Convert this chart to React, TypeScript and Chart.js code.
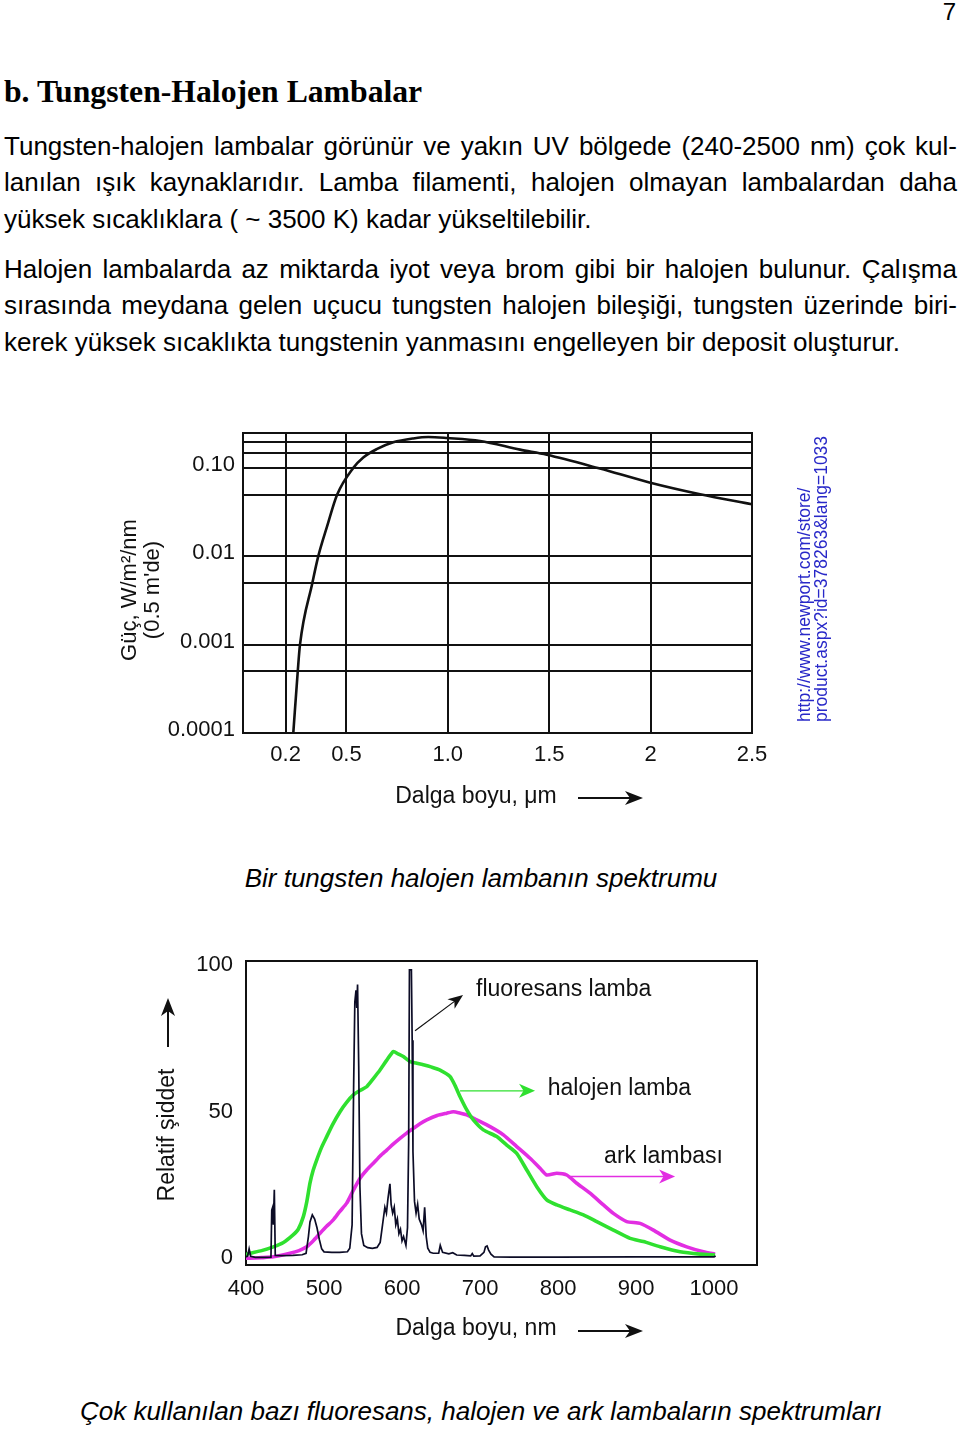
import React, { useEffect, useRef } from 'react';
import { Chart, registerables } from 'chart.js';

Chart.register(...registerables);

const FONT = "'Liberation Sans', Arial, Helvetica, sans-serif";

// ---------------- Chart 1: tungsten-halogen power spectrum ----------------
const powerWavelengthsUm = [0.238, 0.26, 0.271, 0.332, 0.361, 0.405, 0.454, 0.533, 0.583, 0.649, 0.731, 0.83, 0.904, 0.998, 1.159, 1.356, 1.488, 1.75, 1.994, 2.244, 2.5];
const powerValues = [0.0001, 0.0005, 0.001, 0.005, 0.01, 0.022, 0.05, 0.1, 0.132, 0.164, 0.196, 0.217, 0.225, 0.219, 0.203, 0.162, 0.142, 0.099, 0.0689, 0.0507, 0.039];
const powerGridValues = [0.0001, 0.0005, 0.001, 0.005, 0.01, 0.05, 0.1, 0.15, 0.2];
const powerLabelValues = [0.0001, 0.001, 0.01, 0.1];
const powerLabelTexts = ['0.0001', '0.001', '0.01', '0.10'];
const umTickValues = [0.2, 0.5, 1.0, 1.5, 2, 2.5];
const umTickLabels = ['0.2', '0.5', '1.0', '1.5', '2', '2.5'];

// ---------------- Chart 2: lamp spectra ----------------
const fluorWl = [400, 402, 404, 406, 412, 425, 432, 433, 434.2, 435, 436.3, 437.5, 445, 460, 472, 477, 480, 482, 485, 488, 491, 494, 497, 500, 510, 520, 530, 533, 536, 538, 539.5, 541, 542, 543, 544.5, 546, 548, 551, 556, 562, 568, 572, 575, 578, 580, 582, 584.5, 586, 588, 590, 592, 594, 596, 598, 600, 602, 605, 607, 608.5, 609.5, 612, 613, 614, 616, 618, 620, 622, 625, 627, 629, 631, 633, 636, 640, 647, 649, 652, 660, 665, 670, 680, 688, 690, 692, 700, 705, 707, 709, 711, 714, 718, 740, 800, 900, 1000, 1002];
const fluorVal = [1.0, 1.3, 3.8, 1.3, 0.9, 0.9, 1.0, 17, 18, 12, 24, 1.6, 1.5, 1.6, 1.8, 2.3, 8, 13, 15.4, 14, 11, 7, 3.8, 2.8, 2.6, 2.6, 2.8, 4, 12, 60, 88, 92, 86, 94, 66, 25, 9, 5, 4.2, 4, 4.3, 6, 12, 18, 16, 21, 26, 19, 16, 18, 12, 14, 9, 10.5, 6.5, 8, 5, 11, 40, 99, 99, 75, 37, 20, 16, 19, 14, 12, 10, 18, 8, 4, 2.6, 2.3, 2.3, 5, 2.6, 2.1, 2.5, 1.7, 1.6, 1.4, 2.2, 1.3, 1.4, 2.6, 4.5, 4.8, 3.4, 2, 1.1, 1.0, 1.0, 1.1, 1.1, 1.4];

const halogenWl = [400, 405, 420, 435, 448, 460, 467, 473.5, 478, 482, 486, 490.6, 497, 503.5, 511, 520.5, 529, 537.6, 546, 554.7, 563, 571.8, 580, 588.8, 595, 601.7, 610.3, 618, 627.3, 638, 648.7, 661.5, 668, 674.4, 683, 691.4, 704.2, 721.4, 734.2, 747, 759.9, 772.7, 785.5, 798.3, 815.4, 832.5, 849.6, 870.9, 892.3, 909.4, 930.8, 956.4, 982, 1001.3];
const halogenVal = [1.9, 2.3, 3.2, 4.5, 6.0, 8.5, 10.5, 14.8, 20, 26.2, 30.5, 34.1, 38.5, 42.1, 46.2, 50.6, 53.8, 56.3, 57.8, 59.1, 61.8, 64.8, 68, 71.1, 70.3, 69.4, 67.7, 67.2, 66.6, 65.8, 64.8, 62.6, 59.5, 55.7, 51.2, 47.8, 44.4, 42.1, 39.2, 36.4, 30.7, 25, 20.5, 18.8, 17.1, 15.4, 13.1, 10.2, 7.4, 6.3, 4.5, 2.8, 2.0, 1.7];

const arcWl = [400, 405, 420, 435, 456.4, 468, 477.8, 486, 494.9, 503, 511.9, 520, 529.1, 537, 546.2, 555, 563.2, 572, 580.4, 589, 597.4, 606, 614.5, 623, 631.7, 645, 657.3, 665.8, 675, 683, 695.8, 712.8, 729.9, 747, 764.1, 776.9, 785.5, 798.3, 811.1, 823.9, 841, 858.1, 870.9, 888, 905.1, 922.2, 943.6, 965, 986.3, 1001.3];
const arcVal = [0.6, 0.6, 0.8, 1.1, 2.3, 3.2, 4.5, 6.5, 9.1, 11.4, 13.7, 16.5, 19.4, 23.5, 27.9, 30.8, 33, 35.5, 37.5, 39.6, 41.5, 43.3, 44.9, 46.5, 47.8, 49.3, 50.1, 50.6, 50.1, 49.5, 47.8, 45.5, 42.7, 38.7, 34.7, 31.3, 29, 29.6, 29, 26.2, 22.8, 18.8, 15.9, 13.1, 12.5, 10.2, 6.8, 4.5, 2.8, 2.0];

const nmTickValues = [400, 500, 600, 700, 800, 900, 1000];
const nmTickLabels = ['400', '500', '600', '700', '800', '900', '1000'];
const relTickValues = [0, 50, 100];
const relTickLabels = ['0', '50', '100'];

const GREEN = '#2fe02f';
const MAGENTA = '#e22ee2';
const DARK = '#0c0c26';
const INK = '#111111';

// ---------------- drawing helpers ----------------
function drawArrow(ctx: CanvasRenderingContext2D, x1: number, y1: number, x2: number, y2: number, color: string, lw: number, headLen: number, headHalf: number) {
  const ang = Math.atan2(y2 - y1, x2 - x1);
  ctx.save();
  ctx.strokeStyle = color;
  ctx.fillStyle = color;
  ctx.lineWidth = lw;
  ctx.beginPath();
  ctx.moveTo(x1, y1);
  ctx.lineTo(x2 - Math.cos(ang) * headLen * 0.6, y2 - Math.sin(ang) * headLen * 0.6);
  ctx.stroke();
  ctx.translate(x2, y2);
  ctx.rotate(ang);
  ctx.beginPath();
  ctx.moveTo(0, 0);
  ctx.lineTo(-headLen, -headHalf);
  ctx.lineTo(-headLen * 0.72, 0);
  ctx.lineTo(-headLen, headHalf);
  ctx.closePath();
  ctx.fill();
  ctx.restore();
}

function drawText(ctx: CanvasRenderingContext2D, text: string, x: number, y: number, size: number, color: string, align: CanvasTextAlign = 'left', rotate = 0) {
  ctx.save();
  ctx.font = `${size}px ${FONT}`;
  ctx.fillStyle = color;
  ctx.textAlign = align;
  ctx.textBaseline = 'middle';
  ctx.translate(x, y);
  if (rotate) ctx.rotate(rotate);
  ctx.fillText(text, 0, 0);
  ctx.restore();
}

const framePlugin = {
  id: 'frame',
  beforeDatasetsDraw(chart: any) {
    const { ctx, chartArea } = chart;
    ctx.save();
    ctx.strokeStyle = INK;
    ctx.lineWidth = 2;
    ctx.strokeRect(chartArea.left, chartArea.top, chartArea.right - chartArea.left, chartArea.bottom - chartArea.top);
    ctx.restore();
  },
};

// ---------------- Chart 1 component ----------------
function PowerChart() {
  const ref = useRef<HTMLCanvasElement>(null);
  useEffect(() => {
    const canvas = ref.current;
    if (!canvas) return;
    const overlay = {
      id: 'overlay1',
      afterDraw(chart: any) {
        const ctx = chart.ctx as CanvasRenderingContext2D;
        drawText(ctx, 'Güç, W/m²/nm', 130, 190, 22, INK, 'center', -Math.PI / 2);
        drawText(ctx, "(0.5 m'de)", 153, 190, 22, INK, 'center', -Math.PI / 2);
        drawText(ctx, 'http://www.newport.com/store/', 805, 322, 17.5, '#2828c8', 'left', -Math.PI / 2);
        drawText(ctx, 'product.aspx?id=378263&lang=1033', 822, 322, 17.5, '#2828c8', 'left', -Math.PI / 2);
        drawText(ctx, 'Dalga boyu, μm', 476, 397, 23, INK, 'center');
        drawArrow(ctx, 578, 398, 643, 398, INK, 2, 18, 7);
      },
    };
    const chart = new Chart(canvas, {
      type: 'line',
      data: {
        datasets: [
          {
            data: powerWavelengthsUm.map((x, i) => ({ x, y: powerValues[i] })),
            borderColor: INK,
            borderWidth: 2.6,
            pointRadius: 0,
            cubicInterpolationMode: 'monotone',
            fill: false,
          },
        ],
      },
      options: {
        responsive: false,
        animation: false,
        devicePixelRatio: 1,
        events: [],
        layout: { padding: { top: 33, right: 208, left: 0, bottom: 0 } },
        plugins: { legend: { display: false }, tooltip: { enabled: false } },
        scales: {
          x: {
            type: 'linear',
            min: -0.01,
            max: 2.5,
            afterFit: (s: any) => { s.height = 107; },
            afterBuildTicks: (s: any) => { s.ticks = umTickValues.map((v) => ({ value: v })); },
            grid: { color: INK, lineWidth: 2, drawTicks: false },
            border: { display: false },
            ticks: {
              autoSkip: false,
              maxRotation: 0,
              padding: 9,
              color: INK,
              font: { family: FONT, size: 22 },
              callback: (_v: any, i: number) => umTickLabels[i],
            },
          },
          y: {
            type: 'logarithmic',
            min: 0.0001,
            max: 0.25,
            afterFit: (s: any) => { s.width = 243; },
            afterBuildTicks: (s: any) => { s.ticks = powerGridValues.map((v) => ({ value: v })); },
            grid: { color: INK, lineWidth: 2, drawTicks: false },
            border: { display: false },
            ticks: {
              autoSkip: false,
              padding: 8,
              labelOffset: -3,
              color: INK,
              font: { family: FONT, size: 22 },
              callback: (v: any) => {
                const i = powerLabelValues.indexOf(v);
                return i >= 0 ? powerLabelTexts[i] : '';
              },
            },
          },
        },
      },
      plugins: [framePlugin, overlay],
    } as any);
    return () => chart.destroy();
  }, []);
  return <canvas ref={ref} width={960} height={440} style={{ position: 'absolute', left: 0, top: 400, width: 960, height: 440 }} />;
}

// ---------------- Chart 2 component ----------------
function SpectraChart() {
  const ref = useRef<HTMLCanvasElement>(null);
  useEffect(() => {
    const canvas = ref.current;
    if (!canvas) return;
    const overlay = {
      id: 'overlay2',
      afterDraw(chart: any) {
        const ctx = chart.ctx as CanvasRenderingContext2D;
        const xs = chart.scales.x;
        const ys = chart.scales.y;
        const px = (v: number) => xs.getPixelForValue(v);
        const py = (v: number) => ys.getPixelForValue(v);
        drawText(ctx, 'Relatif şiddet', 168, 205, 23, INK, 'center', -Math.PI / 2);
        drawArrow(ctx, 168, 117, 168, 68, INK, 2, 18, 7);
        drawText(ctx, 'Dalga boyu, nm', 476, 399, 23, INK, 'center');
        drawArrow(ctx, 578, 401, 643, 401, INK, 2, 18, 7);
        drawArrow(ctx, px(616.7), py(78.2), px(678.2), py(90.4), INK, 1.2, 15, 6);
        drawText(ctx, 'fluoresans lamba', px(694.9), py(92.2), 23, INK, 'left');
        drawArrow(ctx, px(674.4), py(57.7), px(770.5), py(57.7), GREEN, 1.4, 16, 7);
        drawText(ctx, 'halojen lamba', px(786.8), py(58.4), 23, INK, 'left');
        drawArrow(ctx, px(815.4), py(28.5), px(950), py(28.5), MAGENTA, 1.4, 16, 7);
        drawText(ctx, 'ark lambası', px(859), py(35.3), 23, INK, 'left');
      },
    };
    const chart = new Chart(canvas, {
      type: 'line',
      data: {
        datasets: [
          {
            label: 'fluoresans lamba',
            data: fluorWl.map((x, i) => ({ x, y: fluorVal[i] })),
            borderColor: DARK,
            borderWidth: 1.7,
            pointRadius: 0,
            tension: 0,
            fill: false,
          },
          {
            label: 'halojen lamba',
            data: halogenWl.map((x, i) => ({ x, y: halogenVal[i] })),
            borderColor: GREEN,
            borderWidth: 3.6,
            pointRadius: 0,
            tension: 0.2,
            fill: false,
          },
          {
            label: 'ark lambası',
            data: arcWl.map((x, i) => ({ x, y: arcVal[i] })),
            borderColor: MAGENTA,
            borderWidth: 3.6,
            pointRadius: 0,
            tension: 0.2,
            fill: false,
          },
        ],
      },
      options: {
        responsive: false,
        animation: false,
        devicePixelRatio: 1,
        events: [],
        layout: { padding: { top: 31, right: 203, left: 0, bottom: 0 } },
        plugins: { legend: { display: false }, tooltip: { enabled: false } },
        scales: {
          x: {
            type: 'linear',
            min: 400,
            max: 1055,
            afterFit: (s: any) => { s.height = 85; },
            afterBuildTicks: (s: any) => { s.ticks = nmTickValues.map((v) => ({ value: v })); },
            grid: { display: false, drawTicks: false },
            border: { display: false },
            ticks: {
              autoSkip: false,
              maxRotation: 0,
              padding: 11,
              color: INK,
              font: { family: FONT, size: 22 },
              callback: (_v: any, i: number) => nmTickLabels[i],
            },
          },
          y: {
            type: 'linear',
            min: -1.7,
            max: 102,
            afterFit: (s: any) => { s.width = 246; },
            afterBuildTicks: (s: any) => { s.ticks = relTickValues.map((v) => ({ value: v })); },
            grid: { display: false, drawTicks: false },
            border: { display: false },
            ticks: {
              autoSkip: false,
              padding: 13,
              labelOffset: -2,
              color: INK,
              font: { family: FONT, size: 22 },
              callback: (_v: any, i: number) => relTickLabels[i],
            },
          },
        },
      },
      plugins: [framePlugin, overlay],
    } as any);
    return () => chart.destroy();
  }, []);
  return <canvas ref={ref} width={960} height={420} style={{ position: 'absolute', left: 0, top: 930, width: 960, height: 420 }} />;
}

// ---------------- page text ----------------
const para1 = [
  'Tungsten-halojen lambalar görünür ve yakın UV bölgede (240-2500 nm) çok kul-',
  'lanılan ışık kaynaklarıdır. Lamba filamenti, halojen olmayan lambalardan daha',
  'yüksek sıcaklıklara ( ~ 3500 K) kadar yükseltilebilir.',
];
const para2 = [
  'Halojen lambalarda az miktarda iyot veya brom gibi bir halojen bulunur. Çalışma',
  'sırasında meydana gelen uçucu tungsten halojen bileşiği, tungsten üzerinde biri-',
  'kerek yüksek sıcaklıkta tungstenin yanmasını engelleyen bir deposit oluşturur.',
];

function Paragraph({ lines, top }: { lines: string[]; top: number }) {
  return (
    <>
      {lines.map((line, i) => {
        const last = i === lines.length - 1;
        return (
          <div
            key={i}
            style={{
              position: 'absolute',
              left: 4,
              width: 953,
              top: top + i * 36.7,
              fontFamily: FONT,
              fontSize: 26,
              lineHeight: '36.7px',
              color: '#000',
              textAlign: last ? 'left' : 'justify',
              textAlignLast: last ? 'left' : 'justify',
            } as React.CSSProperties}
          >
            {line}
          </div>
        );
      })}
    </>
  );
}

export default function App() {
  return (
    <div style={{ position: 'absolute', left: 0, top: 0, width: 960, height: 1430, background: '#fff', overflow: 'hidden' }}>
      <div style={{ position: 'absolute', right: 4, top: 0, fontFamily: FONT, fontSize: 24, lineHeight: '24px', color: '#000' }}>7</div>
      <div style={{ position: 'absolute', left: 4, top: 76, fontFamily: "'Liberation Serif', 'Times New Roman', serif", fontWeight: 'bold', fontSize: 31.7, lineHeight: '31px', color: '#000', whiteSpace: 'nowrap' }}>
        b. Tungsten-Halojen Lambalar
      </div>
      <Paragraph lines={para1} top={127.7} />
      <Paragraph lines={para2} top={250.7} />
      <PowerChart />
      <div style={{ position: 'absolute', left: 0, width: 962, top: 863, textAlign: 'center', fontFamily: FONT, fontStyle: 'italic', fontSize: 26, lineHeight: '30px', color: '#000' }}>
        Bir tungsten halojen lambanın spektrumu
      </div>
      <SpectraChart />
      <div style={{ position: 'absolute', left: 0, width: 962, top: 1396, textAlign: 'center', fontFamily: FONT, fontStyle: 'italic', fontSize: 26, lineHeight: '30px', color: '#000', whiteSpace: 'nowrap' }}>
        Çok kullanılan bazı fluoresans, halojen ve ark lambaların spektrumları
      </div>
    </div>
  );
}
